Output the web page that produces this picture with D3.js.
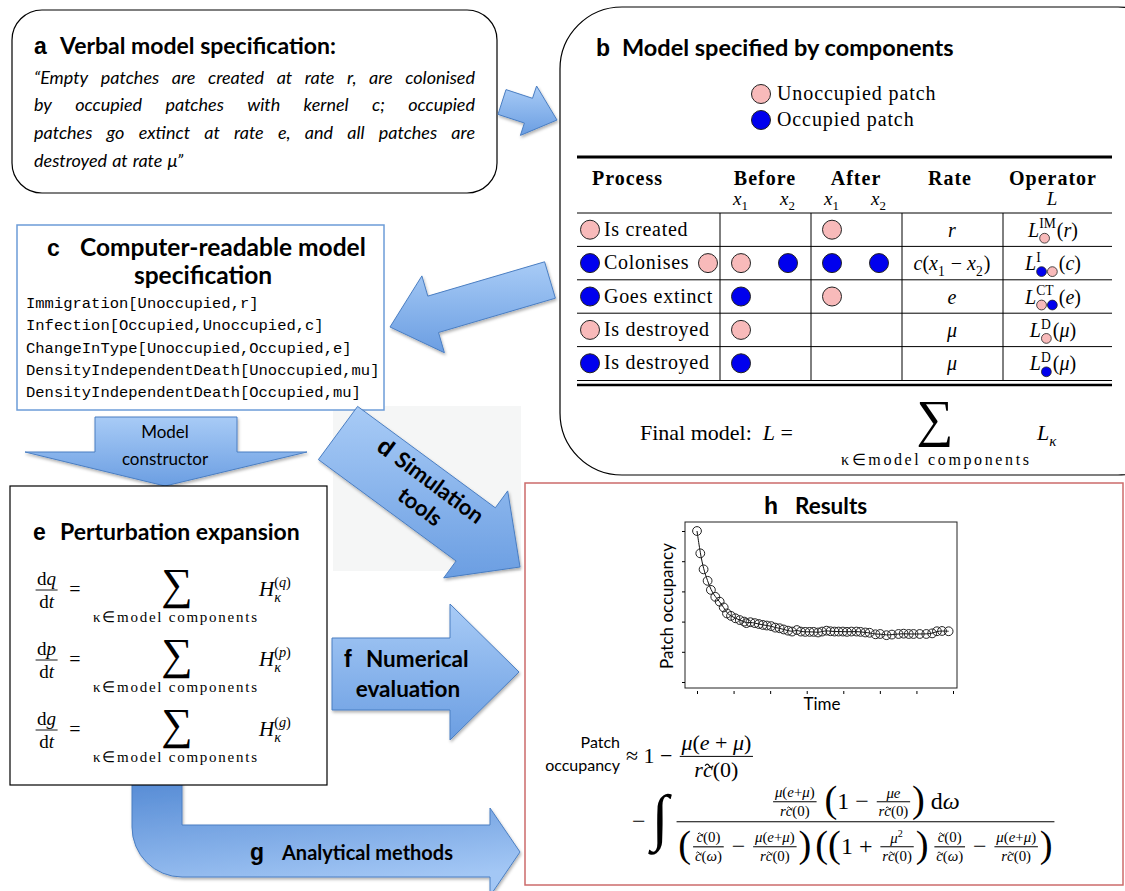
<!DOCTYPE html>
<html>
<head>
<meta charset="utf-8">
<script src="https://cdn.jsdelivr.net/npm/d3@7"></script>
<style>
body { margin: 0; background: #fff; }
</style>
</head>
<body>
<svg id="fig" width="1125" height="891"></svg>
<script>
// ---- data ----
var verbalLines = [
    "\u201cEmpty patches are created at rate r, are colonised",
    "by occupied patches with kernel c; occupied",
    "patches go extinct at rate e, and all patches are",
    "destroyed at rate \u03bc\u201d"
];
var codeLines = [
    "Immigration[Unoccupied,r]",
    "Infection[Occupied,Unoccupied,c]",
    "ChangeInType[Unoccupied,Occupied,e]",
    "DensityIndependentDeath[Unoccupied,mu]",
    "DensityIndependentDeath[Occupied,mu]"
];
var legendStates = ["U", "O"];
var legendLabels = ["Unoccupied patch", "Occupied patch"];
var tableHeaders = ["Process", "Before", "After", "Rate", "Operator"];
var processLabels = ["Is created", "Colonises", "Goes extinct", "Is destroyed", "Is destroyed"];
var processActor = ["U", "O", "O", "U", "O"];
var processTarget = [null, "U", null, null, null];
var beforeStates = [[null, null], ["U", "O"], ["O", null], ["U", null], ["O", null]];
var afterStates = [["U", null], ["O", "O"], ["U", null], [null, null], [null, null]];
var operatorSup = ["IM", "I", "CT", "D", "D"];
var operatorSub = [["U"], ["O", "U"], ["U", "O"], ["U"], ["O"]];
var operatorArg = ["r", "c", "e", "\u03bc", "\u03bc"];
var rateTerms = [
    [{t: "r", i: 1}],
    [{t: "c", i: 1}, {t: "("}, {t: "x", i: 1}, {sub: [{t: "1"}]}, {t: " \u2212 "}, {t: "x", i: 1}, {sub: [{t: "2"}]}, {t: ")"}],
    [{t: "e", i: 1}],
    [{t: "\u03bc", i: 1}],
    [{t: "\u03bc", i: 1}]
];
var eqVars = ["q", "p", "g"];

// results panel: simulated patch occupancy over time
var timeVals = [0, 0.9, 1.8, 2.9, 3.8, 5.0, 6.2, 7.3, 8.2, 9.3, 10.5, 11.7, 12.9, 13.5, 14.6,
    15.8, 16.9, 18.0, 19.1, 20.3, 21.4, 22.6, 23.7, 24.9, 26.0, 27.3, 28.4, 29.6, 30.8,
    31.9, 33.1, 34.2, 35.4, 36.5, 37.6, 38.7, 39.9, 41.0, 42.2, 43.6, 44.7, 46.0, 47.2,
    48.8, 50.1, 51.8, 53.3, 55.1, 56.5, 57.9, 59.2, 60.9, 62.7, 64.3, 65.6, 67.0, 68.8];
var occupancyVals = [0.500, 0.426, 0.373, 0.335, 0.305, 0.282, 0.266, 0.247, 0.227, 0.219,
    0.211, 0.205, 0.200, 0.195, 0.198, 0.195, 0.192, 0.189, 0.187, 0.185, 0.180, 0.178,
    0.174, 0.170, 0.167, 0.172, 0.167, 0.166, 0.166, 0.166, 0.164, 0.167, 0.170, 0.168,
    0.167, 0.167, 0.167, 0.166, 0.167, 0.167, 0.166, 0.164, 0.163, 0.158, 0.159, 0.155,
    0.157, 0.159, 0.160, 0.159, 0.159, 0.159, 0.159, 0.161, 0.168, 0.169, 0.168];
var xTicks = [0, 10, 20, 30, 40, 50, 60, 70];
var yTicks = [0, 0.1, 0.2, 0.3, 0.4, 0.5];

// ---- styles ----
var stateFill = {U: "#f8baba", O: "#0000ee"};
var SANS = "Lato, 'Open Sans', sans-serif";
var LABEL = "'Liberation Sans', Arial, sans-serif";
var MATH = "'Liberation Serif', serif";
var MONO = "'Liberation Mono', monospace";

var svg = d3.select("#fig");
var defs = svg.append("defs");

var grad = defs.append("linearGradient").attr("id", "arrowFill")
    .attr("x1", 0).attr("y1", 0).attr("x2", 0).attr("y2", 1);
grad.append("stop").attr("offset", "0%").attr("stop-color", "#a8cbf6");
grad.append("stop").attr("offset", "100%").attr("stop-color", "#6b9ee2");

var gradG = defs.append("linearGradient").attr("id", "arrowFillG")
    .attr("x1", 0).attr("y1", 0).attr("x2", 0.3).attr("y2", 1);
gradG.append("stop").attr("offset", "0%").attr("stop-color", "#4f86d2");
gradG.append("stop").attr("offset", "100%").attr("stop-color", "#a3c7f5");

var shadow = defs.append("filter").attr("id", "shadow")
    .attr("x", "-20%").attr("y", "-20%").attr("width", "140%").attr("height", "140%");
shadow.append("feDropShadow").attr("dx", 1).attr("dy", 2).attr("stdDeviation", 1.5)
    .attr("flood-color", "#000").attr("flood-opacity", 0.3);

// ---- little math typesetter ----
function mrow(g, items, size) {
    var x = 0;
    items.forEach(function(it) { x += mitem(g, it, x, size); });
    return x;
}

function mitem(g, it, x, size) {
    if (it.t !== undefined) {
        var t = g.append("text").attr("x", x).attr("y", it.dy || 0)
            .attr("font-family", MATH).attr("font-size", size * (it.k || 1))
            .attr("font-style", it.i ? "italic" : "normal")
            .style("white-space", "pre")
            .text(it.t);
        return t.node().getComputedTextLength();
    }
    if (it.tilde) {
        var c = g.append("text").attr("x", x).attr("font-family", MATH)
            .attr("font-size", size).attr("font-style", "italic").text(it.tilde);
        var w = c.node().getComputedTextLength();
        // tilde accent drawn as a small wave
        var tw = size * 0.36, th = size * 0.07;
        var tx = x + w / 2 + size * 0.06 - tw / 2, ty = -size * 0.6;
        g.append("path")
            .attr("d", "M" + tx + "," + (ty + th) + " q" + (tw / 4) + "," + (-2 * th) + " " + (tw / 2) + ",0 t" + (tw / 2) + ",0")
            .attr("fill", "none").attr("stroke", "#000").attr("stroke-width", Math.max(0.6, size * 0.06));
        return w;
    }
    if (it.frac) {
        var fs = size * (it.k || 0.7);
        var axis = size * 0.3;
        var ng = g.append("g"), dg = g.append("g");
        var wn = mrow(ng, it.frac[0], fs), wd = mrow(dg, it.frac[1], fs);
        var nb = ng.node().getBBox(), db = dg.node().getBBox();
        var w2 = Math.max(wn, wd) + size * 0.15;
        var x0 = x + size * 0.08;
        ng.attr("transform", "translate(" + (x0 + (w2 - wn) / 2) + "," + (-axis - 1 - (nb.y + nb.height)) + ")");
        dg.attr("transform", "translate(" + (x0 + (w2 - wd) / 2) + "," + (-axis + 1 - db.y) + ")");
        g.append("line").attr("x1", x0).attr("x2", x0 + w2)
            .attr("y1", -axis).attr("y2", -axis)
            .attr("stroke", "#000").attr("stroke-width", Math.max(0.7, size * 0.045));
        return w2 + size * 0.16;
    }
    if (it.big) {
        var F = size * it.k;
        var b = g.append("text").attr("x", x).attr("y", -size * 0.3 + F * 0.26)
            .attr("font-family", MATH).attr("font-size", F).text(it.big);
        return b.node().getComputedTextLength() + (it.sp || 0);
    }
    if (it.dot) {
        var r = size * 0.36;
        g.append("circle").attr("cx", x + r + 0.5).attr("cy", -size * 0.3).attr("r", r)
            .attr("fill", stateFill[it.dot]).attr("stroke", "#222").attr("stroke-width", 0.8);
        return 2 * r + 1;
    }
    if (it.sup || it.sub) {
        var ws = 0;
        if (it.sup) {
            var sg = g.append("g").attr("transform", "translate(" + x + "," + (-size * 0.42) + ")");
            ws = Math.max(ws, mrow(sg, it.sup, size * 0.68));
        }
        if (it.sub) {
            var bg = g.append("g").attr("transform", "translate(" + x + "," + (size * 0.28) + ")");
            ws = Math.max(ws, mrow(bg, it.sub, size * 0.68));
        }
        return ws + 1;
    }
    return 0;
}

// place a math row centred on cx
function mcenter(parent, items, size, cx, y) {
    var g = parent.append("g");
    var w = mrow(g, items, size);
    g.attr("transform", "translate(" + (cx - w / 2) + "," + y + ")");
    return g;
}

function arrowPoly(sx, sy, tx, ty, sw, hw, hl) {
    var dx = tx - sx, dy = ty - sy, L = Math.hypot(dx, dy);
    var ux = dx / L, uy = dy / L, px = -uy, py = ux;
    var bx = tx - ux * hl, by = ty - uy * hl;
    var pts = [
        [sx + px * sw / 2, sy + py * sw / 2],
        [bx + px * sw / 2, by + py * sw / 2],
        [bx + px * hw / 2, by + py * hw / 2],
        [tx, ty],
        [bx - px * hw / 2, by - py * hw / 2],
        [bx - px * sw / 2, by - py * sw / 2],
        [sx - px * sw / 2, sy - py * sw / 2]
    ];
    return pts.map(function(p) { return p[0].toFixed(1) + "," + p[1].toFixed(1); }).join(" ");
}

function drawArrow(points) {
    svg.append("polygon").attr("points", points)
        .attr("fill", "url(#arrowFill)")
        .attr("stroke", "#4a7ec2").attr("stroke-width", 1)
        .attr("filter", "url(#shadow)");
}

function panelTitle(letter, lx, tx, y, text, size) {
    svg.append("text").attr("x", lx).attr("y", y)
        .attr("font-family", LABEL).attr("font-weight", "bold")
        .attr("font-size", 23).text(letter);
    if (text) {
        svg.append("text").attr("x", tx).attr("y", y)
            .attr("font-family", SANS).attr("font-weight", "bold")
            .attr("font-size", size).text(text);
    }
}

function sumSign(cx, y, size) {
    svg.append("text").attr("x", cx).attr("y", y).attr("text-anchor", "middle")
        .attr("font-family", MATH).attr("font-size", size).text("\u2211");
}

function sumLabel(cx, y, size, width) {
    svg.append("text").attr("x", cx).attr("y", y).attr("text-anchor", "middle")
        .attr("font-family", MATH).attr("font-size", size)
        .attr("textLength", width).attr("lengthAdjust", "spacing")
        .text("\u03ba\u2208model components");
}

// light grey patch behind the simulation arrow
svg.append("rect").attr("x", 333).attr("y", 406).attr("width", 188).attr("height", 165)
    .attr("fill", "#f5f6f6");

// ---- panel a ----
svg.append("rect").attr("x", 12).attr("y", 10).attr("width", 485).attr("height", 183)
    .attr("rx", 30).attr("fill", "#fff").attr("stroke", "#000").attr("stroke-width", 1.2);
panelTitle("a", 34, 60, 54, "Verbal model specification:", 23);

var verbal = svg.append("g").attr("font-family", SANS).attr("font-style", "italic")
    .attr("font-size", 18);
var verbalY = [84, 111, 139, 167];
verbalLines.forEach(function(line, li) {
    var words = line.split(" ");
    var nodes = words.map(function(w) { return verbal.append("text").attr("y", verbalY[li]).text(w); });
    var widths = nodes.map(function(n) { return n.node().getComputedTextLength(); });
    var last = li === verbalLines.length - 1;
    var gap = last ? 5 : (475 - 34 - d3.sum(widths)) / (words.length - 1);
    var x = 34;
    nodes.forEach(function(n, i) { n.attr("x", x); x += widths[i] + gap; });
});

// ---- panel b ----
svg.append("rect").attr("x", 560).attr("y", 7).attr("width", 620).attr("height", 468)
    .attr("rx", 62).attr("fill", "#fff").attr("stroke", "#000").attr("stroke-width", 1.2);
panelTitle("b", 596, 622, 56, "Model specified by components", 23.5);

legendStates.forEach(function(s, i) {
    var ly = 94 + i * 26;
    svg.append("circle").attr("cx", 761).attr("cy", ly).attr("r", 9.5)
        .attr("fill", stateFill[s]).attr("stroke", "#222").attr("stroke-width", 1);
    svg.append("text").attr("x", 777).attr("y", ly + 6)
        .attr("font-family", MATH).attr("font-size", 20).attr("letter-spacing", 0.9)
        .text(legendLabels[i]);
});

// table
var table = svg.append("g");
var rowBand = d3.scaleBand().domain(d3.range(processLabels.length)).range([213, 380]);
var colLines = [720, 811, 902, 1003];
var stateX = {b1: 741, b2: 788, a1: 832, a2: 879};

table.append("line").attr("x1", 577).attr("x2", 1112).attr("y1", 157).attr("y2", 157)
    .attr("stroke", "#000").attr("stroke-width", 3);
table.append("line").attr("x1", 577).attr("x2", 1112).attr("y1", 380.5).attr("y2", 380.5)
    .attr("stroke", "#000").attr("stroke-width", 1);
table.append("line").attr("x1", 577).attr("x2", 1112).attr("y1", 385).attr("y2", 385)
    .attr("stroke", "#000").attr("stroke-width", 2.5);
rowBand.domain().forEach(function(i) {
    table.append("line").attr("x1", 577).attr("x2", 1112)
        .attr("y1", rowBand(i)).attr("y2", rowBand(i))
        .attr("stroke", "#000").attr("stroke-width", 1);
});
colLines.forEach(function(cx) {
    table.append("line").attr("x1", cx).attr("x2", cx).attr("y1", 213).attr("y2", 380)
        .attr("stroke", "#000").attr("stroke-width", 1);
});

var headerX = [592, 765, 856, 950, 1053];
tableHeaders.forEach(function(h, i) {
    table.append("text").attr("x", headerX[i]).attr("y", 185)
        .attr("text-anchor", i === 0 ? "start" : "middle")
        .attr("font-family", MATH).attr("font-weight", "bold").attr("font-size", 20)
        .attr("letter-spacing", 1).text(h);
});
[["b1", "1"], ["b2", "2"], ["a1", "1"], ["a2", "2"]].forEach(function(d) {
    mcenter(table, [{t: "x", i: 1}, {sub: [{t: d[1]}]}], 19, stateX[d[0]], 205);
});
mcenter(table, [{t: "L", i: 1}], 19, 1052, 205);

function stateDot(cx, cy, s) {
    table.append("circle").attr("cx", cx).attr("cy", cy).attr("r", 9.5)
        .attr("fill", stateFill[s]).attr("stroke", "#222").attr("stroke-width", 1);
}

processLabels.forEach(function(lab, i) {
    var cy = rowBand(i) + rowBand.bandwidth() / 2;
    stateDot(590, cy, processActor[i]);
    table.append("text").attr("x", 604).attr("y", cy + 6)
        .attr("font-family", MATH).attr("font-size", 20).attr("letter-spacing", 0.7).text(lab);
    if (processTarget[i]) stateDot(708, cy, processTarget[i]);
    if (beforeStates[i][0]) stateDot(stateX.b1, cy, beforeStates[i][0]);
    if (beforeStates[i][1]) stateDot(stateX.b2, cy, beforeStates[i][1]);
    if (afterStates[i][0]) stateDot(stateX.a1, cy, afterStates[i][0]);
    if (afterStates[i][1]) stateDot(stateX.a2, cy, afterStates[i][1]);
    mcenter(table, rateTerms[i], 20, 952, cy + 7);
    var sub = operatorSub[i].map(function(s) { return {dot: s}; });
    mcenter(table, [{t: "L", i: 1}, {sup: [{t: operatorSup[i]}], sub: sub},
        {t: "("}, {t: operatorArg[i], i: 1}, {t: ")"}], 20, 1053, cy + 7);
});

// final model line
var fm = svg.append("g").attr("transform", "translate(640,440)");
mrow(fm, [{t: "Final model:  "}, {t: "L", i: 1}, {t: " ="}], 22);
sumSign(935, 436, 52);
sumLabel(935, 465, 16, 188);
var lk = svg.append("g").attr("transform", "translate(1037,440)");
mrow(lk, [{t: "L", i: 1}, {sub: [{t: "\u03ba", i: 1}]}], 22);

// ---- panel c ----
svg.append("rect").attr("x", 17).attr("y", 225).attr("width", 367).attr("height", 185)
    .attr("fill", "#fff").attr("stroke", "#6c9cd8").attr("stroke-width", 1.5);
panelTitle("c", 47, 80, 256, "Computer-readable model", 24.5);
svg.append("text").attr("x", 203).attr("y", 284).attr("text-anchor", "middle")
    .attr("font-family", SANS).attr("font-weight", "bold").attr("font-size", 24.5)
    .text("specification");
svg.append("g").selectAll("text").data(codeLines).join("text")
    .attr("x", 26).attr("y", function(d, i) { return 308 + i * 22.3; })
    .attr("font-family", MONO).attr("font-size", 15.5).text(function(d) { return d; });

// ---- arrows ----
drawArrow(arrowPoly(502, 102, 557, 120, 26, 52, 30));
drawArrow(arrowPoly(550, 280, 390, 327, 38, 80, 45));
drawArrow("95,417 237,417 237,452 307,452 165,486 25,452 95,452");
drawArrow(arrowPoly(338, 433, 520, 567, 66, 108, 55));
drawArrow("332,638 450,638 450,604 519,672 450,740 450,710 332,710");
svg.append("path")
    .attr("d", "M132,770 L182,770 L182,825 L490,825 L490,808 L520,852 L490,896 L490,877 L182,877 A50,50 0 0 1 132,827 Z")
    .attr("fill", "url(#arrowFillG)").attr("stroke", "#4a7ec2").attr("stroke-width", 1)
    .attr("filter", "url(#shadow)");

// arrow texts
svg.append("text").attr("x", 165).attr("y", 438).attr("text-anchor", "middle")
    .attr("font-family", SANS).attr("font-size", 17).text("Model");
svg.append("text").attr("x", 165).attr("y", 465).attr("text-anchor", "middle")
    .attr("font-family", SANS).attr("font-size", 17).text("constructor");

var dText = svg.append("g").attr("transform", "translate(430,490) rotate(36.5)");
dText.append("text").attr("x", -68).attr("y", 0)
    .attr("font-family", LABEL).attr("font-weight", "bold").attr("font-size", 24).text("d");
dText.append("text").attr("x", -46).attr("y", 0)
    .attr("font-family", SANS).attr("font-weight", "bold").attr("font-size", 22).text("Simulation");
dText.append("text").attr("x", 2).attr("y", 27).attr("text-anchor", "middle")
    .attr("font-family", SANS).attr("font-weight", "bold").attr("font-size", 22).text("tools");

panelTitle("f", 344, 366, 667, "Numerical", 22.5);
svg.append("text").attr("x", 408).attr("y", 697).attr("text-anchor", "middle")
    .attr("font-family", SANS).attr("font-weight", "bold").attr("font-size", 22.5).text("evaluation");
panelTitle("g", 250, 282, 860, "Analytical methods", 20);

// ---- panel e ----
svg.append("rect").attr("x", 10).attr("y", 486).attr("width", 317).attr("height", 299)
    .attr("fill", "#fff").attr("stroke", "#000").attr("stroke-width", 1.2);
panelTitle("e", 33, 60, 540, "Perturbation expansion", 23);

eqVars.forEach(function(v, i) {
    var ly = 590 + i * 70;
    var eg = svg.append("g").attr("transform", "translate(34," + (ly + 6) + ")");
    mrow(eg, [{frac: [[{t: "d"}, {t: v, i: 1}], [{t: "d"}, {t: "t", i: 1}]], k: 0.95}, {t: "  ="}], 20);
    sumSign(177, ly + 9, 44);
    sumLabel(175, ly + 32, 15, 164);
    var hg = svg.append("g").attr("transform", "translate(259," + (ly + 6) + ")");
    mrow(hg, [{t: "H", i: 1}, {sup: [{t: "("}, {t: v, i: 1}, {t: ")"}], sub: [{t: "\u03ba", i: 1}]}], 21);
});

// ---- panel h ----
svg.append("rect").attr("x", 525).attr("y", 483).attr("width", 598).attr("height", 402)
    .attr("fill", "#fff").attr("stroke", "#cc6b6b").attr("stroke-width", 1.5);
panelTitle("h", 764, 795, 514, "Results", 22.5);

var x = d3.scaleLinear().domain([0, 70]).range([697, 953]);
var y = d3.scaleLinear().domain([0, 0.5]).range([682, 531]);
var plot = svg.append("g");
plot.append("rect").attr("x", 685).attr("y", 522).attr("width", 272).attr("height", 166)
    .attr("fill", "none").attr("stroke", "#222").attr("stroke-width", 1);
plot.append("g").attr("transform", "translate(685,0)")
    .call(d3.axisLeft(y).tickValues(yTicks).tickSize(3).tickFormat(""))
    .call(function(g) { g.select(".domain").remove(); });
plot.append("g").attr("transform", "translate(0,691)")
    .call(d3.axisBottom(x).tickValues(xTicks).tickSize(3).tickFormat(""))
    .call(function(g) { g.select(".domain").remove(); });

var pts = timeVals.map(function(t, i) { return [t, occupancyVals[i]]; });
plot.append("path").datum(pts)
    .attr("d", d3.line().x(function(d) { return x(d[0]); }).y(function(d) { return y(d[1]); })
        .curve(d3.curveBasis))
    .attr("fill", "none").attr("stroke", "#111").attr("stroke-width", 1);
plot.selectAll("circle").data(pts).join("circle")
    .attr("cx", function(d) { return x(d[0]); }).attr("cy", function(d) { return y(d[1]); })
    .attr("r", 4.4).attr("fill", "none").attr("stroke", "#222").attr("stroke-width", 1);

svg.append("text").attr("x", 822).attr("y", 710).attr("text-anchor", "middle")
    .attr("font-family", SANS).attr("font-size", 17).text("Time");
svg.append("text").attr("transform", "translate(673,606) rotate(-90)").attr("text-anchor", "middle")
    .attr("font-family", SANS).attr("font-size", 17).text("Patch occupancy");

svg.append("text").attr("x", 620).attr("y", 748).attr("text-anchor", "end")
    .attr("font-family", SANS).attr("font-size", 16).text("Patch");
svg.append("text").attr("x", 620).attr("y", 771).attr("text-anchor", "end")
    .attr("font-family", SANS).attr("font-size", 16).text("occupancy");

var muEmu = [{t: "\u03bc", i: 1}, {t: "("}, {t: "e", i: 1}, {t: "+"}, {t: "\u03bc", i: 1}, {t: ")"}];
var muEmuD = [{t: "\u03bc", i: 1}, {t: "("}, {t: "e", i: 1}, {t: " + "}, {t: "\u03bc", i: 1}, {t: ")"}];
var rc0 = [{t: "r", i: 1}, {tilde: "c"}, {t: "(0)"}];
var c0 = [{tilde: "c"}, {t: "(0)"}];
var cw = [{tilde: "c"}, {t: "("}, {t: "\u03c9", i: 1}, {t: ")"}];
var SK = 0.62;

var f1 = svg.append("g").attr("transform", "translate(626,763)");
mrow(f1, [{t: "\u2248 1 \u2212 "}, {frac: [muEmuD, rc0], k: 1}], 22);

var numer2 = [{frac: [muEmu, rc0], k: SK}, {t: " "}, {big: "(", k: 1.6}, {t: "1 \u2212 "},
    {frac: [[{t: "\u03bce", i: 1}], rc0], k: SK}, {big: ")", k: 1.6}, {t: " d"}, {t: "\u03c9", i: 1}];
var denom2 = [{big: "(", k: 1.6}, {frac: [c0, cw], k: SK}, {t: " \u2212 "}, {frac: [muEmu, rc0], k: SK},
    {big: ")", k: 1.6, sp: 4}, {big: "(", k: 1.6}, {big: "(", k: 1.6}, {t: "1 + "},
    {frac: [[{t: "\u03bc", i: 1}, {sup: [{t: "2"}]}], rc0], k: SK}, {big: ")", k: 1.6, sp: 4},
    {frac: [c0, cw], k: SK}, {t: " \u2212 "}, {frac: [muEmu, rc0], k: SK}, {big: ")", k: 1.6}];
var f2 = svg.append("g").attr("transform", "translate(632,829)");
mrow(f2, [{t: "\u2212 "}, {big: "\u222b", k: 2.6}, {t: " "}, {frac: [numer2, denom2], k: 1}], 24);
</script>
</body>
</html>
